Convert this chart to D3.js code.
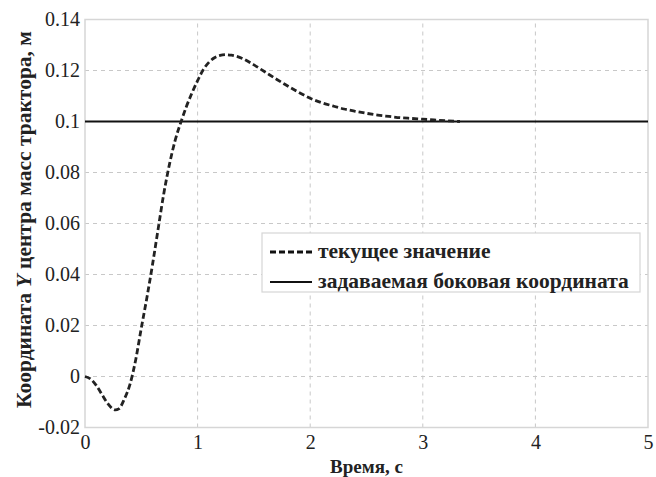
<!DOCTYPE html>
<html>
<head>
<meta charset="utf-8">
<script src="https://cdn.jsdelivr.net/npm/d3@7"></script>
<style>
  html, body { margin: 0; padding: 0; background: #fff; }
  svg text { font-family: "Liberation Serif", "Times New Roman", serif; fill: #222; }
</style>
</head>
<body>
<svg id="chart" width="656" height="477"></svg>
<script>
// Lateral coordinate of the tractor's centre of mass over time
const timeValues = [0, 0.05, 0.1, 0.15, 0.2, 0.27, 0.3, 0.35, 0.4, 0.45, 0.5, 0.55, 0.6, 0.65, 0.7, 0.75, 0.8, 0.86, 0.9, 0.95, 1.0, 1.05, 1.1, 1.15, 1.2, 1.25, 1.3, 1.4, 1.5, 1.6, 1.7, 1.8, 1.9, 2.0, 2.1, 2.2, 2.3, 2.4, 2.5, 2.6, 2.7, 2.8, 2.9, 3.0, 3.1, 3.2, 3.33];
const currentValues = [0, -0.001, -0.0035, -0.007, -0.0105, -0.0131, -0.0127, -0.0088, -0.003, 0.0065, 0.019, 0.031, 0.044, 0.058, 0.0718, 0.0832, 0.0925, 0.1008, 0.1058, 0.1112, 0.116, 0.1203, 0.1232, 0.125, 0.1259, 0.1262, 0.126, 0.1247, 0.1222, 0.1194, 0.1166, 0.1139, 0.1114, 0.1091, 0.1074, 0.1061, 0.1049, 0.104, 0.1032, 0.1025, 0.102, 0.1015, 0.1012, 0.1009, 0.1006, 0.1003, 0.1];
const targetTime = [0, 5];
const targetValues = [0.1, 0.1];
const xTicks = [0, 1, 2, 3, 4, 5];
const yTicks = [-0.02, 0, 0.02, 0.04, 0.06, 0.08, 0.1, 0.12, 0.14];
const legendLabels = ["текущее значение", "задаваемая боковая координата"];

const svg = d3.select("#chart");
const margin = { left: 85, right: 8, top: 19.5, bottom: 49.5 };
const W = 656, H = 477;

const x = d3.scaleLinear().domain([0, 5]).range([margin.left, W - margin.right]);
const y = d3.scaleLinear().domain([-0.02, 0.14]).range([H - margin.bottom, margin.top]);

// Grid
const grid = svg.append("g");
grid.selectAll("line.vx").data(xTicks.slice(1, -1)).join("line")
  .attr("x1", d => x(d)).attr("x2", d => x(d))
  .attr("y1", y(-0.02)).attr("y2", y(0.14))
  .attr("stroke", "#c8c8c8").attr("stroke-width", 1).attr("stroke-dasharray", "4,4");
grid.selectAll("line.hy").data(yTicks.slice(1, -1)).join("line")
  .attr("x1", x(0)).attr("x2", x(5))
  .attr("y1", d => y(d)).attr("y2", d => y(d))
  .attr("stroke", "#c8c8c8").attr("stroke-width", 1).attr("stroke-dasharray", "4,4");

// Frame
svg.append("rect")
  .attr("x", x(0)).attr("y", y(0.14))
  .attr("width", x(5) - x(0)).attr("height", y(-0.02) - y(0.14))
  .attr("fill", "none").attr("stroke", "#d6d6d6").attr("stroke-width", 1.5);

// Axes (plain hyphen for negatives)
const fmt = d => (d === 0 ? "0" : String(+d.toFixed(2)));
const xAxis = svg.append("g").attr("transform", `translate(0,${y(-0.02)})`)
  .call(d3.axisBottom(x).tickValues(xTicks).tickSize(0).tickPadding(7).tickFormat(fmt));
const yAxis = svg.append("g").attr("transform", `translate(${x(0)},0)`)
  .call(d3.axisLeft(y).tickValues(yTicks).tickSize(0).tickPadding(5).tickFormat(fmt));
[xAxis, yAxis].forEach(a => {
  a.select(".domain").remove();
  a.attr("font-family", null);
  a.selectAll("text").attr("font-size", 20).attr("fill", "#222");
});

// Series
const line = d3.line().x(d => x(d[0])).y(d => y(d[1]));
svg.append("path")
  .datum(targetTime.map((t, i) => [t, targetValues[i]]))
  .attr("d", line).attr("fill", "none").attr("stroke", "#111").attr("stroke-width", 2.2);
svg.append("path")
  .datum(timeValues.map((t, i) => [t, currentValues[i]]))
  .attr("d", d3.line().curve(d3.curveMonotoneX).x(d => x(d[0])).y(d => y(d[1])))
  .attr("fill", "none").attr("stroke", "#222").attr("stroke-width", 2.8)
  .attr("stroke-dasharray", "6,3");

// Legend
const lg = svg.append("g").attr("transform", "translate(262,233)");
lg.append("rect").attr("width", 378).attr("height", 59)
  .attr("fill", "#fff").attr("stroke", "#d6d6d6").attr("stroke-width", 1.2);
legendLabels.forEach((lab, i) => {
  const yy = 19 + i * 30;
  lg.append("line").attr("x1", 8).attr("x2", 50).attr("y1", yy).attr("y2", yy)
    .attr("stroke", "#111").attr("stroke-width", i === 0 ? 2.8 : 2.2)
    .attr("stroke-dasharray", i === 0 ? "6,3" : null);
  lg.append("text").attr("x", 56).attr("y", yy + 6)
    .attr("font-size", 21.5).attr("font-weight", "bold").text(lab);
});

// Axis titles
svg.append("text").attr("x", (x(0) + x(5)) / 2).attr("y", 473)
  .attr("text-anchor", "middle").attr("font-size", 19).attr("font-weight", "bold")
  .text("Время, с");
const yt = svg.append("text")
  .attr("transform", `translate(31,${(y(-0.02) + y(0.14)) / 2 - 4}) rotate(-90)`)
  .attr("text-anchor", "middle").attr("font-size", 21.5).attr("font-weight", "bold");
yt.append("tspan").text("Координата ");
yt.append("tspan").attr("font-style", "italic").text("Y");
yt.append("tspan").text(" центра масс трактора, м");
</script>
</body>
</html>
